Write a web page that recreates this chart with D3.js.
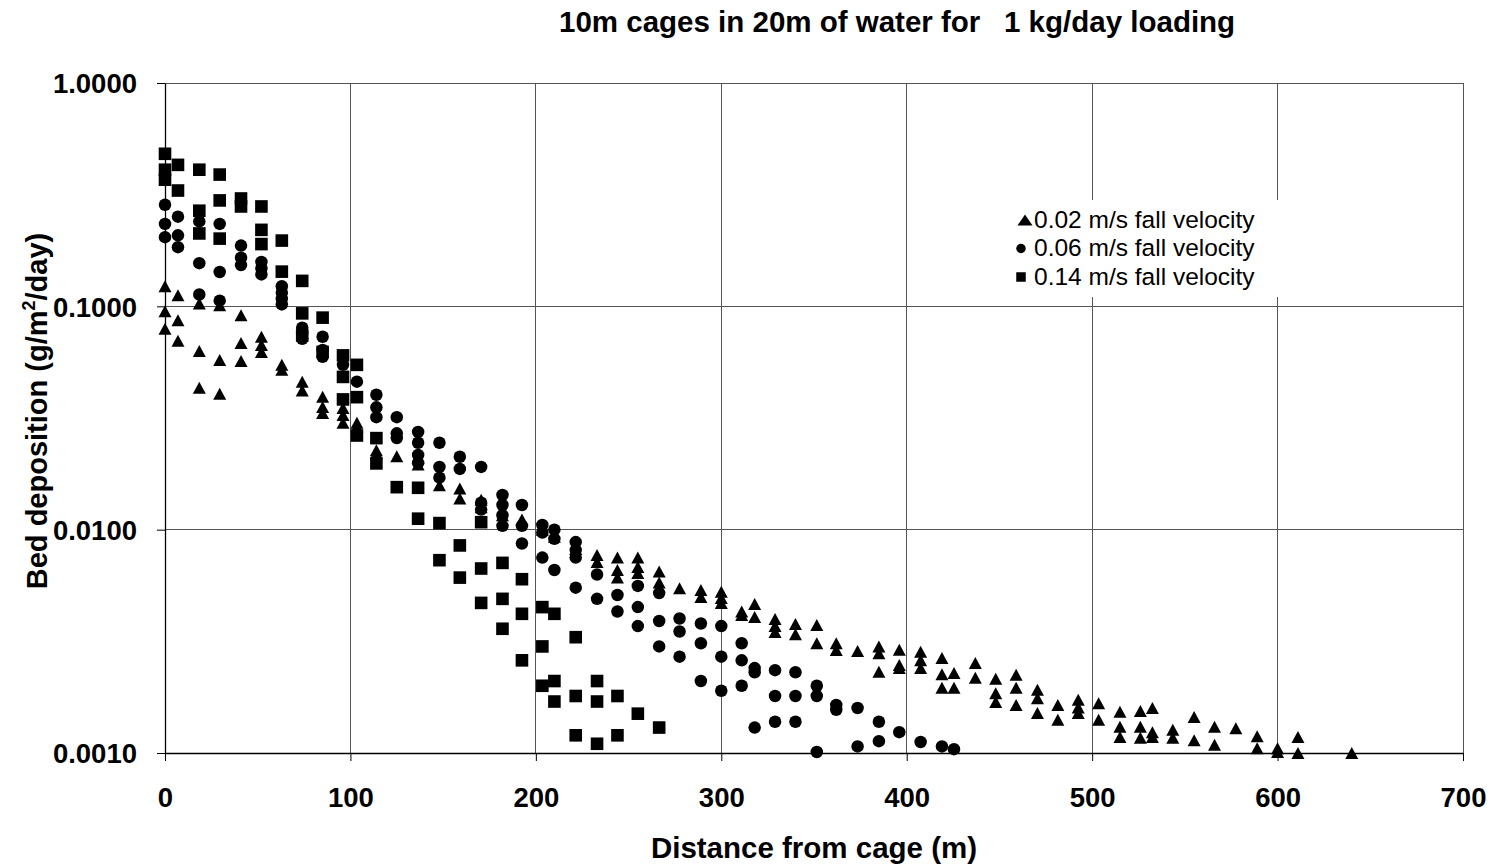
<!DOCTYPE html>
<html><head><meta charset="utf-8">
<script src="https://cdn.jsdelivr.net/npm/d3@7"></script>
<style>body{margin:0;background:#fff}svg{display:block}text{font-family:"Liberation Sans",Arial,sans-serif}</style>
</head><body>
<svg id="c" width="1493" height="866"></svg>
<script>
const titleParts = ["10m cages in 20m of water for", "1 kg/day loading"];
const xTicks = [0,100,200,300,400,500,600,700];
const yTicks = [0.001,0.01,0.1,1];
const seriesNames = ["0.02 m/s fall velocity","0.06 m/s fall velocity","0.14 m/s fall velocity"];
const xTitle = "Distance from cage (m)";

// 0.02 m/s fall velocity (triangles): [distance, deposition]
const tri = [
[0,0.123],[0,0.095],[0,0.0794],[7,0.112],[7,0.0866],[7,0.0701],
[18.5,0.103],[18.5,0.0631],[18.5,0.0432],[29.5,0.101],[29.5,0.0575],[29.5,0.0406],
[41,0.0912],[41,0.0685],[41,0.0569],[52,0.0731],[52,0.0671],[52,0.0624],
[63,0.0548],[63,0.052],[74,0.0459],[74,0.042],[85,0.0394],[85,0.0354],[85,0.0333],
[96,0.0351],[96,0.0326],[96,0.0301],[103.5,0.0301],[103.5,0.0289],
[114,0.0227],[114,0.022],[125,0.0213],[136.5,0.021],[136.5,0.0196],[148,0.0158],
[159,0.0153],[159,0.0138],[170.5,0.0136],[170.5,0.0126],[182,0.0116],[192.5,0.0111],
[203.5,0.0100],[210,0.0093],[221.5,0.0082],[233,0.0077],[233,0.00716],
[244,0.0075],[244,0.0066],[244,0.0061],[255,0.0075],[255,0.0068],[255,0.0064],
[266.5,0.0065],[266.5,0.0058],[277.5,0.00547],[289,0.00537],[289,0.0050],
[300,0.00527],[300,0.00494],[300,0.0047],[311,0.0043],[311,0.00415],
[318,0.00465],[318,0.00406],[329,0.00398],[329,0.0037],[329,0.00348],
[340,0.00378],[340,0.0034],[351.5,0.00374],[351.5,0.0031],[362,0.0031],[362,0.00289],
[373.5,0.00286],[385,0.0030],[385,0.0028],[385,0.00231],[396,0.0029],[396,0.00248],[396,0.0024],
[407.5,0.00284],[407.5,0.0026],[407.5,0.0024],[419,0.00266],[419,0.00225],[419,0.00196],
[425.5,0.00228],[425.5,0.00196],[437,0.00253],[437,0.00217],
[448,0.00215],[448,0.00185],[448,0.00169],[459,0.00224],[459,0.00196],[459,0.00164],
[470.5,0.00192],[470.5,0.00176],[470.5,0.00151],[481.5,0.00164],[481.5,0.00141],
[492.5,0.00173],[492.5,0.0016],[492.5,0.00151],[503.5,0.00167],[503.5,0.00141],
[515,0.00153],[515,0.00131],[515,0.00118],[526,0.00154],[526,0.00131],[526,0.00117],
[532.5,0.00159],[532.5,0.00124],[532.5,0.00118],[543.5,0.00127],[543.5,0.00117],
[555,0.00145],[555,0.00114],[566,0.00131],[566,0.00109],[577.5,0.00129],
[589,0.00119],[589,0.00105],[600,0.00105],[600,0.00101],[611,0.00118],[611,0.0010],[640,0.0010]
];
// 0.06 m/s fall velocity (circles)
const circ = [
[0,0.285],[0,0.234],[0,0.204],[7,0.252],[7,0.208],[7,0.184],
[18.5,0.24],[18.5,0.156],[18.5,0.113],[29.5,0.234],[29.5,0.1425],[29.5,0.106],
[41,0.187],[41,0.165],[41,0.153],[52,0.158],[52,0.148],[52,0.139],
[63,0.123],[63,0.115],[63,0.108],[63,0.102],[74,0.0802],[74,0.0761],[74,0.0716],
[85,0.0731],[85,0.0638],[85,0.0594],[96,0.0547],[103.5,0.046],
[114,0.0402],[114,0.0353],[114,0.0319],[125,0.0319],[125,0.027],[125,0.0257],
[136.5,0.0274],[136.5,0.0245],[136.5,0.0216],[136.5,0.0199],
[148,0.0245],[148,0.0191],[148,0.0171],[159,0.0212],[159,0.0187],
[170.5,0.0191],[170.5,0.0132],[170.5,0.0123],
[182,0.0143],[182,0.0129],[182,0.0116],[182,0.0104],
[192.5,0.0129],[192.5,0.0104],[192.5,0.00867],[203.5,0.0105],[203.5,0.0097],[203.5,0.0075],
[210,0.0100],[210,0.0091],[210,0.0066],[221.5,0.0088],[221.5,0.0081],[221.5,0.0075],[221.5,0.0055],
[233,0.0063],[233,0.0049],[244,0.0051],[244,0.0043],[255,0.0056],[255,0.0045],[255,0.0037],
[266.5,0.0052],[266.5,0.0039],[266.5,0.0030],[277.5,0.0040],[277.5,0.0035],[277.5,0.0027],
[289,0.0038],[289,0.0031],[289,0.0021],[300,0.0037],[300,0.0027],[300,0.0019],
[311,0.0031],[311,0.0026],[311,0.0020],[318,0.0024],[318,0.0023],[318,0.0013],
[329,0.00235],[329,0.0018],[329,0.00138],[340,0.0023],[340,0.0018],[340,0.00138],
[351.5,0.0020],[351.5,0.0018],[351.5,0.00101],[362,0.00164],[362,0.00156],
[373.5,0.00159],[373.5,0.00107],[385,0.00138],[385,0.00113],[396,0.00124],
[407.5,0.00112],[419,0.00107],[425.5,0.00104]
];
// 0.14 m/s fall velocity (squares)
const sq = [
[0,0.482],[0,0.409],[0,0.369],[7,0.43],[7,0.33],
[18.5,0.409],[18.5,0.268],[18.5,0.212],[29.5,0.389],[29.5,0.298],[29.5,0.201],
[41,0.304],[41,0.28],[52,0.28],[52,0.22],[52,0.19],[63,0.197],[63,0.143],
[74,0.13],[74,0.093],[74,0.074],[85,0.089],[85,0.0625],
[96,0.0603],[96,0.0483],[96,0.0383],[103.5,0.0547],[103.5,0.0392],[103.5,0.0264],
[114,0.0257],[114,0.0198],[125,0.0155],[136.5,0.0154],[136.5,0.0112],
[148,0.0107],[148,0.0073],[159,0.0085],[159,0.0061],
[170.5,0.0108],[170.5,0.0067],[170.5,0.0047],[182,0.0071],[182,0.0049],[182,0.0036],
[192.5,0.0060],[192.5,0.0042],[192.5,0.0026],[203.5,0.0045],[203.5,0.0030],[203.5,0.0020],
[210,0.0042],[210,0.0021],[210,0.0017],[221.5,0.0033],[221.5,0.0018],[221.5,0.0012],
[233,0.0021],[233,0.0017],[233,0.0011],[244,0.0018],[244,0.0012],[255,0.0015],[266.5,0.0013]
];

const svg = d3.select("#c");
const L=165,R=1463,T=83,B=753;
const x = d3.scaleLinear().domain([0,700]).range([L,R]);
const y = d3.scaleLog().domain([0.001,1]).range([B,T]);
const FF = "'Liberation Sans',Arial,sans-serif";

// gridlines
svg.append("g").selectAll("line").data(xTicks.slice(1)).join("line")
  .attr("x1",d=>x(d)).attr("x2",d=>x(d)).attr("y1",T).attr("y2",B)
  .attr("stroke","#555").attr("stroke-width",1).attr("shape-rendering","crispEdges");
svg.append("g").selectAll("line").data(yTicks.slice(1)).join("line")
  .attr("x1",L).attr("x2",R).attr("y1",d=>y(d)).attr("y2",d=>y(d))
  .attr("stroke","#555").attr("stroke-width",1).attr("shape-rendering","crispEdges");

// axes
const fmt = d3.format(".4f");
const xa = svg.append("g").attr("transform",`translate(0,${B})`)
  .call(d3.axisBottom(x).tickValues(xTicks).tickSize(8).tickSizeOuter(0).tickPadding(26).tickFormat(d3.format("d")));
const ya = svg.append("g").attr("transform",`translate(${L},0)`)
  .call(d3.axisLeft(y).tickValues(yTicks).tickSize(8).tickSizeOuter(0).tickPadding(20).tickFormat(fmt));
[xa,ya].forEach(a=>{
  a.select(".domain").attr("stroke","#000").attr("stroke-width",1.3);
  a.selectAll(".tick line").attr("stroke","#000").attr("stroke-width",1);
  a.selectAll(".tick text").attr("font-weight","bold").attr("fill","#000").attr("font-family",FF)
   .attr("font-size",27.5);
});
ya.selectAll(".tick text").attr("dy","0.36em");

// legend background (hides gridlines)
svg.append("rect").attr("x",1005).attr("y",200).attr("width",280).attr("height",97).attr("fill","#fff");

// marker shapes
const shapes = {
  tri: (g,w,h)=>g.append("path").attr("d",`M0,${-h/2}L${w/2},${h/2}L${-w/2},${h/2}Z`),
  circ:(g,w)=>g.append("circle").attr("r",w/2),
  sq:  (g,w)=>g.append("rect").attr("x",-w/2).attr("y",-w/2).attr("width",w).attr("height",w)
};
const markerSize = {tri:[13,12], circ:[12.5,12.5], sq:[12.6,12.6]};
function drawSeries(data, kind){
  const g = svg.append("g").attr("fill","#000");
  data.forEach(d=>{
    const m = g.append("g").attr("transform",`translate(${x(d[0])},${y(d[1])})`);
    shapes[kind](m, markerSize[kind][0], markerSize[kind][1]);
  });
}
drawSeries(tri,"tri");
drawSeries(circ,"circ");
drawSeries(sq,"sq");

// legend
const lg = svg.append("g");
const kinds=["tri","circ","sq"];
const legendY=[220,248.5,277];
const legendMk={tri:[15,11],circ:[9.5,9.5],sq:[9.5,9.5]};
seriesNames.forEach((n,i)=>{
  const yy = legendY[i];
  const m = lg.append("g").attr("transform",`translate(${kinds[i]==="tri"?1025:1021},${yy})`).attr("fill","#000");
  shapes[kinds[i]](m, legendMk[kinds[i]][0], legendMk[kinds[i]][1]);
  lg.append("text").attr("x",1034).attr("y",yy+7.5)
    .attr("font-size",24.5).attr("fill","#000").text(n);
});

// titles
svg.append("text").attr("x",559).attr("y",32)
  .attr("font-size",29.5).attr("font-weight","bold").text(titleParts[0]);
svg.append("text").attr("x",1004).attr("y",31.5)
  .attr("font-size",29.5).attr("font-weight","bold").text(titleParts[1]);

svg.append("text").attr("x",814).attr("y",858).attr("text-anchor","middle")
  .attr("font-size",29.5).attr("font-weight","bold").text(xTitle);

const yt = svg.append("text").attr("transform","translate(47,411) rotate(-90)")
  .attr("text-anchor","middle").attr("font-size",29).attr("font-weight","bold");
yt.append("tspan").text("Bed deposition (g/m");
yt.append("tspan").attr("font-size",18).attr("dy",-12).text("2");
yt.append("tspan").attr("dy",12).text("/day)");
</script>
</body></html>
